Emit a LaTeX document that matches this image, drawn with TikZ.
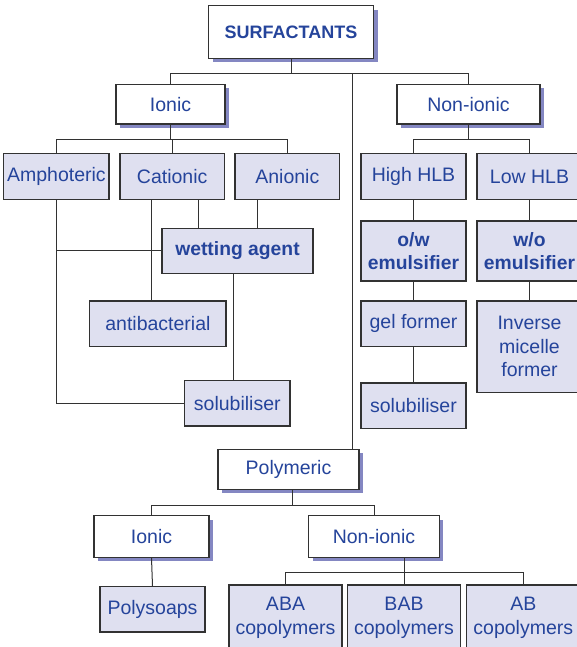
\documentclass[tikz,border=0pt]{standalone}
\usepackage{fontspec}
\setmainfont{Liberation Sans}
\usetikzlibrary{shadows}
\definecolor{txtc}{RGB}{37,68,155}
\definecolor{fillc}{RGB}{223,224,240}
\definecolor{shadc}{RGB}{132,135,194}
\definecolor{linec}{RGB}{50,50,50}
\begin{document}
\begin{tikzpicture}[x=1pt,y=-1pt,
  base/.style={draw=linec, line width=1.2pt, inner sep=0pt, align=center, text=txtc,
    font=\fontsize{19.5}{23.5}\selectfont},
  wbox/.style={base, fill=white, drop shadow={shadow xshift=4pt, shadow yshift=-4pt, opacity=1, fill=shadc}},
  fbox/.style={base, fill=fillc},
  bold/.style={font=\fontsize{19.3}{23.5}\selectfont\bfseries},
  conn/.style={draw=linec, line width=1pt}]
\clip (0,0) rectangle (577,647);
\fill[white] (0,0) rectangle (577,647);
% level 0
\node[wbox, minimum width=165pt, minimum height=52.6pt, font=\fontsize{18}{22}\selectfont\bfseries] (sur) at (291,32) {SURFACTANTS};
% level 1
\node[wbox, minimum width=109pt, minimum height=39.7pt] (ion) at (170.5,104.2) {Ionic};
\node[wbox, minimum width=143pt, minimum height=39.7pt] (non) at (468.5,104.2) {Non-ionic};
% level 2
\node[fbox, minimum width=105.3pt, minimum height=45.6pt] (amp) at (56.4,176.5) {Amphoteric};
\node[fbox, minimum width=104.5pt, minimum height=45.6pt] (cat) at (172.2,176.5) {Cationic};
\node[fbox, minimum width=104.7pt, minimum height=45.6pt] (ani) at (287.3,176.5) {Anionic};
\node[fbox, minimum width=105pt, minimum height=45.6pt] (high) at (413.5,176.5) {High HLB};
\node[fbox, minimum width=105pt, minimum height=45.6pt] (low) at (529.5,176.5) {Low HLB};
% ionic branch
\node[fbox, bold, minimum width=151pt, minimum height=45pt] (wet) at (237.5,250.8) {wetting agent};
\node[fbox, minimum width=136.2pt, minimum height=45.7pt] (anti) at (157.9,323.8) {antibacterial};
\node[fbox, minimum width=105.3pt, minimum height=45.7pt] (solA) at (237.3,403.2) {solubiliser};
% non-ionic branch
\node[fbox, bold, minimum width=105pt, minimum height=60pt] (ow) at (413.5,251) {o/w\\emulsifier};
\node[fbox, bold, minimum width=105pt, minimum height=60pt] (wo) at (529.5,251) {w/o\\emulsifier};
\node[fbox, minimum width=105pt, minimum height=45.7pt] (gel) at (413.5,323.8) {gel former};
\node[fbox, minimum width=105pt, minimum height=45.7pt] (solB) at (413.5,405.8) {solubiliser};
\node[fbox, minimum width=105pt, minimum height=91.7pt] (inv) at (529.5,346.8) {Inverse\\micelle\\former};
% polymeric
\node[wbox, minimum width=141pt, minimum height=40pt] (poly) at (288.5,469.3) {Polymeric};
\node[wbox, minimum width=115pt, minimum height=41.6pt] (pion) at (151.5,536.5) {Ionic};
\node[wbox, minimum width=130.7pt, minimum height=41.6pt] (pnon) at (374,536.5) {Non-ionic};
\node[fbox, minimum width=105pt, minimum height=45.3pt] (psoap) at (152.5,609.3) {Polysoaps};
\node[fbox, minimum width=113pt, minimum height=66pt] (aba) at (285.5,618) {ABA\\copolymers};
\node[fbox, minimum width=113.3pt, minimum height=66pt] (bab) at (404,618) {BAB\\copolymers};
\node[fbox, minimum width=113.4pt, minimum height=66pt] (ab) at (523.3,618) {AB\\copolymers};
% bus coordinates
\coordinate (b1) at (292.5,73.3);
\coordinate (pv) at (352,73.3);
\coordinate (b2) at (0,140);
\coordinate (b3) at (0,505.7);
\coordinate (b4) at (0,572.3);
% connectors top
\draw[conn] (sur.south) -- (sur.south |- b1);
\draw[conn] (ion.north) -- (ion.north |- b1) -- (non.north |- b1) -- (non.north);
\draw[conn] (pv) -- (pv |- poly.north);
% ionic children
\draw[conn] (ion.south) -- (ion.south |- b2);
\draw[conn] (amp.north) -- (amp.north |- b2) -- (ani.north |- b2) -- (ani.north);
\draw[conn] (cat.north) -- (cat.north |- b2);
\draw[conn] (amp.south) -- (amp.south |- solA.west) -- (solA.west);
\draw[conn] (amp.south |- wet.west) -- (wet.west);
\draw[conn] ([xshift=-21.2pt]cat.south) -- ([xshift=-21.2pt]cat.south |- anti.north);
\draw[conn] ([xshift=26.5pt]cat.south) -- ([xshift=26.5pt]cat.south |- wet.north);
\draw[conn] ([xshift=-29.7pt]ani.south) -- ([xshift=-29.7pt]ani.south |- wet.north);
\draw[conn] ([xshift=-4.5pt]wet.south) -- ([xshift=-4.5pt]wet.south |- solA.north);
% non-ionic children
\draw[conn] (non.south) -- (non.south |- b2);
\draw[conn] (high.north) -- (high.north |- b2) -- (low.north |- b2) -- (low.north);
\draw[conn] (high.south) -- (ow.north);
\draw[conn] (ow.south) -- (gel.north);
\draw[conn] (gel.south) -- (solB.north);
\draw[conn] (low.south) -- (wo.north);
\draw[conn] (wo.south) -- (inv.north);
% polymeric children
\draw[conn] ([xshift=4pt]poly.south) -- ([xshift=4pt]poly.south |- b3);
\draw[conn] (pion.north) -- (pion.north |- b3) -- (pnon.north |- b3) -- (pnon.north);
\draw[conn] (pion.south) -- (psoap.north);
\draw[conn] (bab.north |- pnon.south) -- (bab.north);
\draw[conn] (aba.north) -- (aba.north |- b4) -- (ab.north |- b4) -- (ab.north);
\end{tikzpicture}
\end{document}
